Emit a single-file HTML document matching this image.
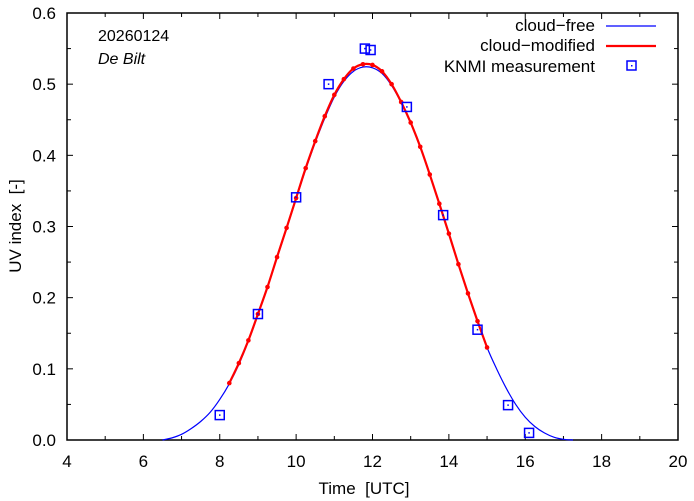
<!DOCTYPE html>
<html><head><meta charset="utf-8"><style>
body{margin:0;background:#fff}
svg{display:block;font-family:"Liberation Sans",sans-serif}
text{white-space:pre}
</style></head><body>
<svg id="chart" width="694" height="501">
<g id="grid"></g>
<rect x="67" y="13" width="611" height="427" fill="none" stroke="#000" stroke-width="1.5"/>
<g id="ticks"></g>
<g id="series"></g>
<text x="98" y="41" font-size="16">20260124</text>
<text x="98" y="64" font-size="16" font-style="italic">De Bilt</text>
<text x="364" y="494" font-size="17" text-anchor="middle">Time  [UTC]</text>
<text transform="translate(21,226) rotate(-90)" font-size="17" text-anchor="middle">UV index  [-]</text>
<g>
<g><text x="595" y="31" font-size="17" text-anchor="end">cloud−free</text><line x1="606" y1="26" x2="656" y2="26" stroke="#0000ff" stroke-width="1.2"/></g>
<g><text x="595" y="51" font-size="17" text-anchor="end">cloud−modified</text><line x1="606" y1="46" x2="656" y2="46" stroke="#ff0000" stroke-width="2.2"/></g>
<g><text x="595" y="72" font-size="17" text-anchor="end">KNMI measurement</text><rect x="627" y="61" width="9" height="9" fill="none" stroke="#0000ff" stroke-width="1.5"/><rect x="631" y="65" width="1.5" height="1.5" fill="#0000ff"/></g>
</g>
</svg>
<script>
const xTicks=[4,6,8,10,12,14,16,18,20];
const yTicks=[0.0,0.1,0.2,0.3,0.4,0.5,0.6];
const freeTimes=[6.5,6.75,7,7.25,7.5,7.75,8,8.25,8.5,8.75,9,9.25,9.5,9.75,10,10.25,10.5,10.75,11,11.25,11.5,11.75,12,12.25,12.5,12.75,13,13.25,13.5,13.75,14,14.25,14.5,14.75,15,15.25,15.5,15.75,16,16.25,16.5,16.75,17,17.25];
const freeValues=[0,0.003,0.008,0.016,0.026,0.039,0.057,0.079,0.106,0.139,0.176,0.215,0.256,0.297,0.339,0.38,0.418,0.452,0.482,0.504,0.518,0.524,0.523,0.515,0.498,0.474,0.445,0.411,0.373,0.332,0.29,0.247,0.206,0.167,0.13,0.1,0.073,0.05,0.032,0.019,0.01,0.004,0.001,0];
const modTimes=[8.25,8.5,8.75,9,9.25,9.5,9.75,10,10.25,10.5,10.75,11,11.25,11.5,11.75,12,12.25,12.5,12.75,13,13.25,13.5,13.75,14,14.25,14.5,14.75,15];
const modValues=[0.08,0.108,0.14,0.177,0.215,0.257,0.298,0.34,0.382,0.42,0.455,0.485,0.507,0.522,0.528,0.527,0.518,0.5,0.475,0.446,0.412,0.373,0.332,0.29,0.247,0.206,0.167,0.13];
const measTimes=[8.0,9.0,10.0,10.85,11.8,11.95,12.9,13.85,14.75,15.55,16.1];
const measValues=[0.035,0.177,0.341,0.5,0.55,0.548,0.468,0.316,0.155,0.049,0.01];
const NS="http://www.w3.org/2000/svg";
const X=t=>67+(t-4)*611/16, Y=v=>440-v*427/0.6;
function mk(tag,a,p){const e=document.createElementNS(NS,tag);for(const k in a)e.setAttribute(k,a[k]);p.appendChild(e);return e;}
const tk=document.getElementById('ticks'), sr=document.getElementById('series');
for(let t=4;t<=20;t++){const x=X(t),big=t%2===0;
 mk('line',{x1:x,y1:440,x2:x,y2:440-(big?6:4),stroke:'#000'},tk);
 mk('line',{x1:x,y1:13,x2:x,y2:13+(big?6:4),stroke:'#000'},tk);}
xTicks.forEach(t=>{const e=mk('text',{x:X(t),y:467,'font-size':17,'text-anchor':'middle'},tk);e.textContent=t;

});
for(let i=0;i<=12;i++){const v=i*0.05,y=Y(v),big=i%2===0;
 mk('line',{x1:67,y1:y,x2:67+(big?6:4),y2:y,stroke:'#000'},tk);
 mk('line',{x1:678,y1:y,x2:678-(big?6:4),y2:y,stroke:'#000'},tk);}
yTicks.forEach(v=>{const e=mk('text',{x:56,y:Y(v)+6,'font-size':17,'text-anchor':'end'},tk);e.textContent=v.toFixed(1);

});
function smooth(ts,vs){const p=ts.map((t,i)=>[X(t),Y(vs[i])]);let d='M'+p[0][0]+','+p[0][1];
 for(let i=0;i<p.length-1;i++){const p0=p[Math.max(0,i-1)],p1=p[i],p2=p[i+1],p3=p[Math.min(p.length-1,i+2)];
 d+=` C${p1[0]+(p2[0]-p0[0])/6},${p1[1]+(p2[1]-p0[1])/6} ${p2[0]-(p3[0]-p1[0])/6},${p2[1]-(p3[1]-p1[1])/6} ${p2[0]},${p2[1]}`;}return d;}
const lf=mk('path',{d:smooth(freeTimes,freeValues),fill:'none',stroke:'#0000ff','stroke-width':1.2},sr);


const lm=mk('path',{d:smooth(modTimes,modValues),fill:'none',stroke:'#ff0000','stroke-width':2.2},sr);


modTimes.forEach((t,i)=>{const c=mk('circle',{cx:X(t),cy:Y(modValues[i]),r:2.3,fill:'#ff0000'},sr);

});
measTimes.forEach((t,i)=>{const x=X(t),y=Y(measValues[i]);
const g=mk('g',{},sr);


mk('rect',{x:x-4.5,y:y-4.5,width:9,height:9,fill:'none',stroke:'#0000ff','stroke-width':1.5},g);
mk('rect',{x:x-0.75,y:y-0.75,width:1.5,height:1.5,fill:'#0000ff'},g);});
</script>
</body></html>
